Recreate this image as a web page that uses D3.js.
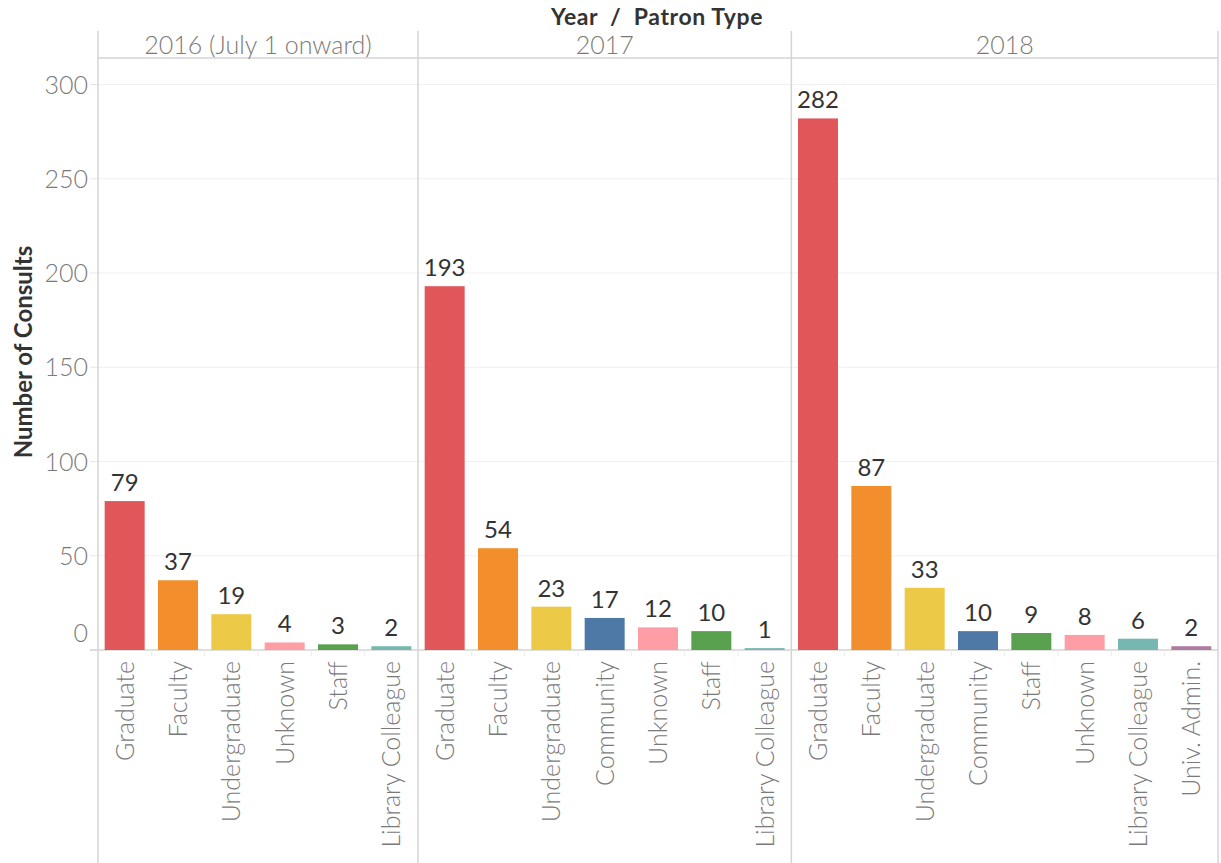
<!DOCTYPE html>
<html>
<head>
<meta charset="utf-8">
<script src="https://cdn.jsdelivr.net/npm/d3@7"></script>
<style>
  body { margin: 0; background: #fff; }
  text { font-family: Lato, "Open Sans", sans-serif; }
</style>
</head>
<body>
<div id="chart"></div>
<script>
// data
const years = ["2016 (July 1 onward)", "2017", "2018"];
const types2016 = ["Graduate", "Faculty", "Undergraduate", "Unknown", "Staff", "Library Colleague"];
const values2016 = [79, 37, 19, 4, 3, 2];
const types2017 = ["Graduate", "Faculty", "Undergraduate", "Community", "Unknown", "Staff", "Library Colleague"];
const values2017 = [193, 54, 23, 17, 12, 10, 1];
const types2018 = ["Graduate", "Faculty", "Undergraduate", "Community", "Staff", "Unknown", "Library Colleague", "Univ. Admin."];
const values2018 = [282, 87, 33, 10, 9, 8, 6, 2];
const yTicks = [0, 50, 100, 150, 200, 250, 300];

const patronTypes = ["Graduate", "Faculty", "Undergraduate", "Community", "Unknown", "Staff", "Library Colleague", "Univ. Admin."];
const colorScale = d3.scaleOrdinal()
    .domain(patronTypes)
    .range(["#e15759", "#f28e2b", "#edc948", "#4e79a7", "#ff9da7", "#59a14f", "#76b7b2", "#b07aa1"]);

const panels = [
    {year: years[0], types: types2016, values: values2016},
    {year: years[1], types: types2017, values: values2017},
    {year: years[2], types: types2018, values: values2018}
];

// dimensions
const width = 1221, height = 863;
const left = 98, right = 1218;
const headerTop = 31, headerBottom = 58;
const baseline = 650;
const gray = "#7a7a7a";
const labelSize = 25;

const svg = d3.select("#chart").append("svg")
    .attr("width", width)
    .attr("height", height);

const y = d3.scaleLinear().domain([0, 300]).range([baseline, 84.5]);

// every bar gets the same band width, so panel width follows the bar count
const nTotal = d3.sum(panels, p => p.types.length);
const bandW = (right - left) / nTotal;
let offset = left;
panels.forEach(p => {
    p.x0 = offset;
    p.x1 = offset + bandW * p.types.length;
    offset = p.x1;
});

// gridlines
svg.append("g").selectAll("line")
    .data(yTicks.filter(d => d > 0))
    .join("line")
    .attr("x1", left).attr("x2", right)
    .attr("y1", d => y(d)).attr("y2", d => y(d))
    .attr("stroke", "#f0f0f0").attr("stroke-width", 1);

// y tick marks + labels
svg.append("g").selectAll("line")
    .data(yTicks)
    .join("line")
    .attr("x1", left - 8).attr("x2", left)
    .attr("y1", d => y(d)).attr("y2", d => y(d))
    .attr("stroke", "#e6e6e6");

svg.append("g").selectAll("text")
    .data(yTicks)
    .join("text")
    .attr("x", 88)
    .attr("y", d => d === 0 ? y(d) - 17 : y(d))
    .attr("dy", "0.36em")
    .attr("text-anchor", "end")
    .attr("font-size", labelSize)
    .attr("font-weight", 300)
    .attr("fill", gray)
    .text(d => d);

// axis title
svg.append("text")
    .attr("transform", `translate(32,352) rotate(-90)`)
    .attr("text-anchor", "middle")
    .attr("font-size", 24)
    .attr("font-weight", 700)
    .attr("fill", "#333")
    .text("Number of Consults");

// header
svg.append("text")
    .attr("x", 657).attr("y", 25)
    .attr("text-anchor", "middle")
    .attr("font-size", 23)
    .attr("font-weight", 700)
    .attr("fill", "#333")
    .attr("xml:space", "preserve")
    .attr("letter-spacing", 0.6)
    .text("Year  /  Patron Type");

svg.append("line")
    .attr("x1", left).attr("x2", right)
    .attr("y1", headerBottom).attr("y2", headerBottom)
    .attr("stroke", "#d4d4d4").attr("stroke-width", 1.5);

// panel borders
const borders = [left, ...panels.map(p => p.x1)];
svg.append("g").selectAll("line")
    .data(borders)
    .join("line")
    .attr("x1", d => d).attr("x2", d => d)
    .attr("y1", headerTop).attr("y2", height)
    .attr("stroke", "#d4d4d4").attr("stroke-width", 1.5);

// baseline
svg.append("line")
    .attr("x1", left - 8).attr("x2", right)
    .attr("y1", baseline).attr("y2", baseline)
    .attr("stroke", "#d4d4d4").attr("stroke-width", 1.5);

panels.forEach(p => {
    const x = d3.scaleBand()
        .domain(p.types)
        .range([p.x0, p.x1])
        .paddingInner(0.25)
        .paddingOuter(0.125);

    const g = svg.append("g");

    g.append("text")
        .attr("x", (p.x0 + p.x1) / 2).attr("y", 54)
        .attr("text-anchor", "middle")
        .attr("font-size", labelSize)
        .attr("font-weight", 300)
        .attr("fill", gray)
        .text(p.year);

    const rows = p.types.map((t, i) => ({type: t, value: p.values[i]}));

    g.selectAll("rect")
        .data(rows)
        .join("rect")
        .attr("x", d => x(d.type))
        .attr("y", d => y(d.value))
        .attr("width", x.bandwidth())
        .attr("height", d => baseline - y(d.value))
        .attr("fill", d => colorScale(d.type));

    g.selectAll("text.val")
        .data(rows)
        .join("text")
        .attr("class", "val")
        .attr("x", d => x(d.type) + x.bandwidth() / 2)
        .attr("y", d => y(d.value) - 10)
        .attr("text-anchor", "middle")
        .attr("font-size", 24)
        .attr("fill", "#333")
        .text(d => d.value);

    // little separators between categories under the axis
    g.selectAll("line.sep")
        .data(p.types.slice(1))
        .join("line")
        .attr("class", "sep")
        .attr("x1", d => x(d) - x.step() * 0.125).attr("x2", d => x(d) - x.step() * 0.125)
        .attr("y1", baseline).attr("y2", baseline + 6)
        .attr("stroke", "#ececec");

    g.selectAll("text.cat")
        .data(rows)
        .join("text")
        .attr("class", "cat")
        .attr("transform", d => `translate(${x(d.type) + x.bandwidth() / 2},661) rotate(-90)`)
        .attr("dy", "0.36em")
        .attr("text-anchor", "end")
        .attr("font-size", labelSize)
        .attr("font-weight", 300)
        .attr("fill", gray)
        .text(d => d.type);
});
</script>
</body>
</html>
